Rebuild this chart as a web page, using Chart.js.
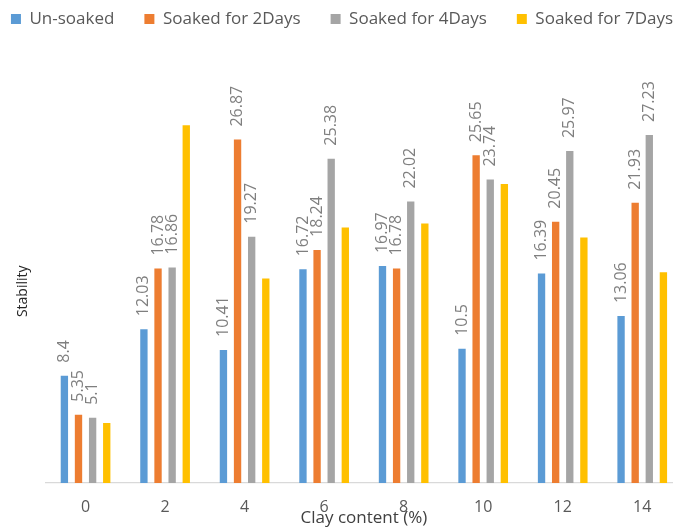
<!DOCTYPE html>
<html>
<head>
<meta charset="utf-8">
<script src="https://cdn.jsdelivr.net/npm/chart.js@4"></script>
<style>
  html, body { margin: 0; padding: 0; background: #ffffff; overflow: hidden; }
  #wrap { width: 682px; height: 528px; }
</style>
</head>
<body>
<div id="wrap"><canvas id="chart" width="682" height="528"></canvas></div>
<script>
// Clay content (%) on the x axis
const categories = ['0', '2', '4', '6', '8', '10', '12', '14'];

// Stability values per soaking condition
const unsoaked    = [8.4, 12.03, 10.41, 16.72, 16.97, 10.5, 16.39, 13.06];
const soaked2Days = [5.35, 16.78, 26.87, 18.24, 16.78, 25.65, 20.45, 21.93];
const soaked4Days = [5.1, 16.86, 19.27, 25.38, 22.02, 23.74, 25.97, 27.23];
const soaked7Days = [4.7, 28.0, 16.0, 20.0, 20.3, 23.4, 19.2, 16.5];

const seriesNames  = ['Un-soaked', 'Soaked for 2Days', 'Soaked for 4Days', 'Soaked for 7Days'];
const seriesColors = ['#5b9bd5', '#ed7d31', '#a5a5a5', '#ffc000'];
// Series whose bars carry a value label
const labelledSeries = [0, 1, 2];

const FONT = '"Open Sans", "Noto Sans", sans-serif';
const LEGEND_PAD = 30;
const LEGEND_CENTER_X = 342;
const LEGEND_TEXT_Y = 19;
const PLOT_TOP = 99.6;
const X_AXIS_HEIGHT = 45;

// Rotated value labels above the bars
const valueLabels = {
  id: 'valueLabels',
  afterDatasetsDraw(chart) {
    const ctx = chart.ctx;
    ctx.save();
    ctx.font = '16px ' + FONT;
    ctx.fillStyle = '#7f7f7f';
    ctx.textAlign = 'left';
    ctx.textBaseline = 'middle';
    labelledSeries.forEach(i => {
      const meta = chart.getDatasetMeta(i);
      meta.data.forEach((bar, j) => {
        const v = chart.data.datasets[i].data[j];
        ctx.save();
        ctx.translate(bar.x, bar.y - 13);
        ctx.rotate(-Math.PI / 2);
        ctx.fillText(String(v), 0, 0);
        ctx.restore();
      });
    });
    ctx.restore();
  }
};

// Keep the legend on one wide row and reserve a fixed band above the plot
const legendBand = {
  id: 'legendBand',
  beforeInit(chart) {
    const lg = chart.legend;
    if (!lg) return;
    const fit = lg.fit;
    lg.fit = function () {
      const mw = this.maxWidth;
      this.maxWidth = mw + 400;
      fit.call(this);
      this.maxWidth = mw;
      this.width = mw;
      this.height = PLOT_TOP;
    };
    const draw = lg.draw;
    lg.draw = function () {
      const l = this.left, r = this.right;
      const rowWidth = this.lineWidths[0] - LEGEND_PAD;
      const startX = LEGEND_CENTER_X - rowWidth / 2;
      this.left = startX - LEGEND_PAD;
      this.right = r + 400;
      const c = this.ctx;
      c.save();
      c.translate(0, LEGEND_TEXT_Y - (LEGEND_PAD + 8.5));
      draw.call(this);
      c.restore();
      this.left = l;
      this.right = r;
    };
  }
};

const datasets = [unsoaked, soaked2Days, soaked4Days, soaked7Days].map((data, i) => ({
  label: seriesNames[i],
  data: data,
  backgroundColor: seriesColors[i],
  borderWidth: 0,
  categoryPercentage: 0.71,
  barPercentage: 0.52
}));

new Chart(document.getElementById('chart'), {
  type: 'bar',
  data: { labels: categories, datasets: datasets },
  options: {
    responsive: false,
    devicePixelRatio: 1,
    animation: false,
    layout: { padding: { top: 0, left: 10, right: 0, bottom: 0 } },
    plugins: {
      legend: {
        display: true,
        position: 'top',
        align: 'start',
        labels: {
          boxWidth: 10,
          boxHeight: 10,
          padding: LEGEND_PAD,
          color: '#595959',
          font: { family: FONT, size: 17 }
        }
      },
      tooltip: { enabled: false },
      title: { display: false }
    },
    scales: {
      x: {
        grid: { display: false, drawTicks: false },
        border: { display: true, color: '#d9d9d9', width: 1.3 },
        ticks: {
          color: '#595959',
          padding: 14.7,
          font: { family: FONT, size: 16 }
        },
        title: {
          display: true,
          text: 'Clay content (%)',
          color: '#404040',
          font: { family: FONT, size: 17 },
          padding: { top: 0, bottom: 0 }
        },
        afterFit(scale) { scale.height = X_AXIS_HEIGHT; }
      },
      y: {
        min: 0,
        max: 30,
        grid: { display: false, drawTicks: false },
        border: { display: false },
        ticks: { display: false },
        title: {
          display: true,
          text: 'Stability',
          color: '#262626',
          font: { family: FONT, size: 14 },
          padding: { top: 5, bottom: 14 }
        }
      }
    }
  },
  plugins: [legendBand, valueLabels]
});
</script>
</body>
</html>
